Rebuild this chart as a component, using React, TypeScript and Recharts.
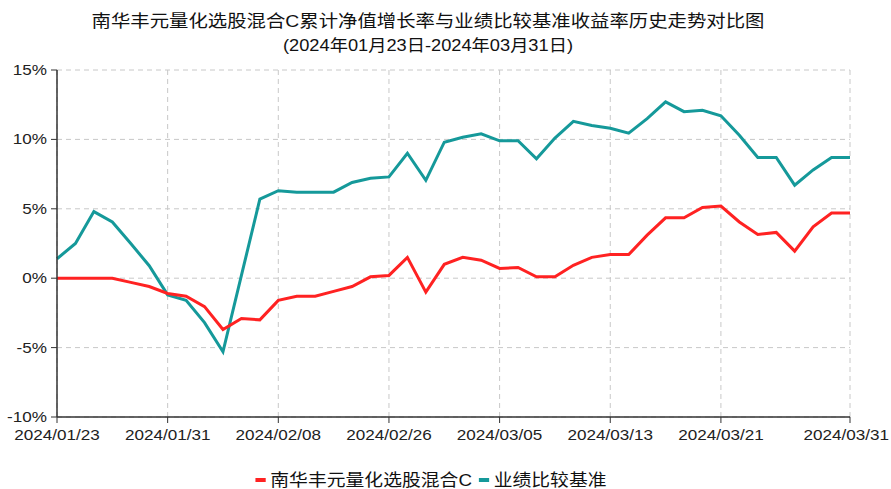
import React from 'react';
import { LineChart, Line, XAxis, YAxis, CartesianGrid } from 'recharts';

const dates = [
  '2024/01/23','2024/01/24','2024/01/25','2024/01/26','2024/01/29','2024/01/30','2024/01/31',
  '2024/02/01','2024/02/02','2024/02/05','2024/02/06','2024/02/07','2024/02/08',
  '2024/02/19','2024/02/20','2024/02/21','2024/02/22','2024/02/23','2024/02/26','2024/02/27','2024/02/28','2024/02/29',
  '2024/03/01','2024/03/04','2024/03/05','2024/03/06','2024/03/07','2024/03/08','2024/03/11','2024/03/12','2024/03/13',
  '2024/03/14','2024/03/15','2024/03/18','2024/03/19','2024/03/20','2024/03/21','2024/03/22','2024/03/25','2024/03/26',
  '2024/03/27','2024/03/28','2024/03/29','2024/03/31'
];

const fundValues = [
  0, 0, 0, 0, -0.3, -0.6, -1.1,
  -1.3, -2.05, -3.7, -2.9, -3.0, -1.6,
  -1.3, -1.3, -0.95, -0.6, 0.1, 0.2, 1.5, -1.0, 1.0,
  1.5, 1.3, 0.7, 0.77, 0.1, 0.1, 0.93, 1.5, 1.7,
  1.7, 3.1, 4.35, 4.35, 5.1, 5.2, 4.05, 3.15, 3.3,
  1.95, 3.7, 4.7, 4.7
];

const benchValues = [
  1.4, 2.5, 4.8, 4.05, 2.5, 0.9, -1.2,
  -1.6, -3.2, -5.3, 0.2, 5.7, 6.3,
  6.2, 6.2, 6.2, 6.9, 7.2, 7.3, 9.0, 7.05, 9.8,
  10.15, 10.4, 9.9, 9.9, 8.6, 10.1, 11.3, 11.0, 10.8,
  10.45, 11.5, 12.7, 12.0, 12.1, 11.7, 10.3, 8.7, 8.7,
  6.7, 7.8, 8.7, 8.7
];

const xTicks = ['2024/01/23','2024/01/31','2024/02/08','2024/02/26','2024/03/05','2024/03/13','2024/03/21','2024/03/31'];
const yTicks = [-10, -5, 0, 5, 10, 15];

const fundName = '南华丰元量化选股混合C';
const benchName = '业绩比较基准';
const titleLine1 = '南华丰元量化选股混合C累计净值增长率与业绩比较基准收益率历史走势对比图';
const titleLine2 = '(2024年01月23日-2024年03月31日)';

const RED = '#ff2222';
const TEAL = '#15999a';

const data = dates.map((d, i) => ({ date: d, fund: fundValues[i], bench: benchValues[i] }));

const FONT = '"Liberation Sans", Arial, "Noto Sans CJK SC", sans-serif';
const SX = 1.14;
const LAST = xTicks[xTicks.length - 1];

const XTick = (props: any) => {
  const { x, y, payload } = props;
  const isLast = payload.value === LAST;
  const tx = isLast ? 889 : x;
  return (
    <text transform={`translate(${tx},${y + 15}) scale(${SX},1)`} textAnchor={isLast ? 'end' : 'middle'} fontSize={15} fill="#222" fontFamily={FONT}>
      {payload.value}
    </text>
  );
};

const YTick = (props: any) => {
  const { x, y, payload } = props;
  return (
    <text transform={`translate(${x - 2},${y + 5}) scale(${SX},1)`} textAnchor="end" fontSize={15} fill="#222" fontFamily={FONT}>
      {payload.value + '%'}
    </text>
  );
};

export default function App() {
  return (
    <div style={{ position: 'absolute', left: 0, top: 0, width: 891, height: 489, background: '#fff', fontFamily: FONT }}>
      <div style={{ position: 'absolute', left: 0, width: 856, top: 11, textAlign: 'center', fontSize: 17, lineHeight: '22px', color: '#111', transform: `scaleX(${SX})`, transformOrigin: '428px 0', whiteSpace: 'nowrap' }}>
        {titleLine1}
      </div>
      <div style={{ position: 'absolute', left: 0, width: 856, top: 35, textAlign: 'center', fontSize: 16, lineHeight: '22px', color: '#111', transform: `scaleX(${SX})`, transformOrigin: '428px 0', whiteSpace: 'nowrap' }}>
        {titleLine2}
      </div>
      <div style={{ position: 'absolute', left: 0, top: 0 }}>
        <LineChart width={891} height={489} data={data} margin={{ top: 70, right: 41, bottom: 0, left: 0 }}>
          <CartesianGrid stroke="#c8c8c8" strokeDasharray="5 4" />
          <XAxis
            dataKey="date"
            ticks={xTicks}
            interval={0}
            tick={<XTick />}
            tickSize={6}
            axisLine={{ stroke: '#333', strokeWidth: 1.5 }}
            tickLine={{ stroke: '#333' }}
            height={72}
          />
          <YAxis
            domain={[-10, 15]}
            ticks={yTicks}
            interval={0}
            tick={<YTick />}
            tickSize={6}
            width={57}
            axisLine={{ stroke: '#333', strokeWidth: 1.5 }}
            tickLine={{ stroke: '#333' }}
          />
          <Line type="linear" dataKey="bench" stroke={TEAL} strokeWidth={3} dot={false} isAnimationActive={false} />
          <Line type="linear" dataKey="fund" stroke={RED} strokeWidth={3} dot={false} isAnimationActive={false} />
        </LineChart>
      </div>
      <div style={{ position: 'absolute', left: 0, width: 862, top: 466, textAlign: 'center', fontSize: 16.5, lineHeight: '24px', color: '#111', transform: `scaleX(${SX})`, transformOrigin: '431px 0', whiteSpace: 'nowrap' }}>
        <span style={{ display: 'inline-block', width: 9, height: 4, background: RED, verticalAlign: 'middle', marginRight: 4 }} />
        <span style={{ verticalAlign: 'middle' }}>{fundName}</span>
        <span style={{ display: 'inline-block', width: 9, height: 4, background: TEAL, verticalAlign: 'middle', marginLeft: 6, marginRight: 4 }} />
        <span style={{ verticalAlign: 'middle' }}>{benchName}</span>
      </div>
    </div>
  );
}
